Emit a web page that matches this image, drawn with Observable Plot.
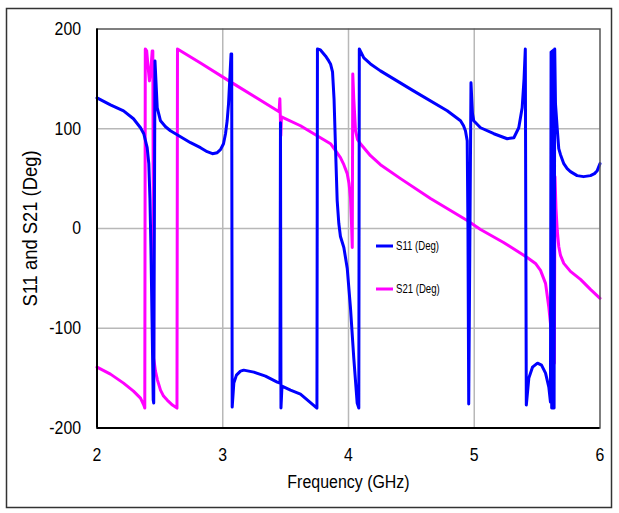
<!DOCTYPE html>
<html>
<head>
<meta charset="utf-8">
<script src="https://cdn.jsdelivr.net/npm/d3@7"></script>
<script src="https://cdn.jsdelivr.net/npm/@observablehq/plot@0.6"></script>
<style>
  html, body { margin: 0; padding: 0; background: #fff; }
  #chart { width: 619px; height: 513px; }
</style>
</head>
<body>
<div id="chart"></div>
<script>
// ---- data ----
const s11Freq = [2.000, 2.107, 2.211, 2.290, 2.346, 2.372, 2.399, 2.412, 2.421, 2.429, 2.439, 2.447, 2.451, 2.461, 2.479, 2.505, 2.545, 2.584, 2.664, 2.744, 2.823, 2.876, 2.918, 2.956, 2.982, 3.006, 3.022, 3.035, 3.046, 3.056, 3.066, 3.071, 3.075, 3.088, 3.109, 3.141, 3.167, 3.247, 3.340, 3.433, 3.455, 3.459, 3.463, 3.471, 3.539, 3.618, 3.749, 3.753, 3.777, 3.817, 3.843, 3.857, 3.873, 3.885, 3.897, 3.910, 3.923, 3.936, 3.963, 3.990, 4.016, 4.042, 4.069, 4.082, 4.086, 4.122, 4.175, 4.254, 4.517, 4.785, 4.891, 4.915, 4.930, 4.944, 4.950, 4.956, 4.974, 4.986, 4.996, 5.050, 5.156, 5.262, 5.315, 5.354, 5.381, 5.396, 5.406, 5.414, 5.434, 5.463, 5.503, 5.535, 5.567, 5.593, 5.606, 5.611, 5.616, 5.620, 5.625, 5.630, 5.635, 5.640, 5.646, 5.660, 5.672, 5.686, 5.712, 5.739, 5.765, 5.818, 5.869, 5.924, 5.956, 5.978, 6.000];
const s11Deg  = [131, 124, 118, 110, 101, 95, 81, 65, 30, -20, -102, -172, -175, 168, 121, 108, 102, 98, 92, 86, 81, 77, 75, 76, 79, 85, 95, 108, 125, 150, 175, 175, -179, -155, -147, -143, -142, -144, -148, -154, -155, 106, -180, -158, -162, -166, -180, 180, 179, 173, 168, 165, 157, 130, 80, 28, 5, -8, -19, -40, -80, -130, -175, -180, 180, 171, 165, 158, 138, 118, 108, 103, 98, 88, 0, -176, 146, 115, 108, 101, 95, 90, 91, 101, 121, 150, 180, -177, -150, -139, -135, -137, -145, -159, -174, 177, -180, 178, -180, 179, -180, 180, 125, 100, 80, 74, 65, 60, 57, 53, 52, 53, 55, 58, 65];

const s21Freq = [2.000, 2.107, 2.211, 2.290, 2.346, 2.372, 2.380, 2.384, 2.395, 2.404, 2.417, 2.429, 2.439, 2.444, 2.451, 2.465, 2.481, 2.505, 2.529, 2.558, 2.600, 2.636, 2.640, 2.823, 3.062, 3.448, 3.454, 3.462, 3.467, 3.618, 3.777, 3.857, 3.897, 3.936, 3.963, 3.990, 4.004, 4.016, 4.024, 4.030, 4.034, 4.042, 4.056, 4.072, 4.095, 4.175, 4.254, 4.414, 4.652, 4.944, 5.050, 5.233, 5.421, 5.487, 5.527, 5.567, 5.593, 5.606, 5.622, 5.637, 5.642, 5.650, 5.660, 5.672, 5.686, 5.712, 5.765, 5.845, 5.924, 6.000];
const s21Deg  = [-139, -146, -155, -163, -170, -177, -180, 180, 178, 165, 148, 160, 178, 178, -130, -143, -152, -162, -168, -172, -177, -180, 180, 166, 147, 117, 130, 93, 112, 103, 91, 85, 78, 71, 64, 55, 45, 31, 5, -19, 155, 130, 98, 89, 85, 73, 64, 50, 30, 8, -1, -14, -29, -35, -42, -55, -79, -95, -115, -135, 52, 20, -2, -18, -27, -35, -43, -51, -61, -70];

const xTicks = [2, 3, 4, 5, 6];
const yTicks = [-200, -100, 0, 100, 200];
const xGrid = [3, 4, 5];
const yGrid = [-100, 0, 100];
const seriesNames = ["S11 (Deg)", "S21 (Deg)"];
const seriesColors = ["#0000ff", "#ff00ff"];
const xTitle = "Frequency (GHz)";
const yTitle = "S11 and S21 (Deg)";

// ---- build tables ----
const s11 = s11Freq.map((f, i) => ({f, v: s11Deg[i]}));
const s21 = s21Freq.map((f, i) => ({f, v: s21Deg[i]}));

const font = '"Liberation Sans", Arial, sans-serif';

const chart = Plot.plot({
  width: 619,
  height: 513,
  marginLeft: 96.5,
  marginRight: 19.5,
  marginTop: 28.5,
  marginBottom: 85.5,
  style: {fontFamily: font, fontSize: "18px", background: "#fff", color: "#000"},
  x: {domain: [2, 6]},
  y: {domain: [-200, 200]},
  marks: [
    Plot.gridX(xGrid, {stroke: "#b8b8b8", strokeOpacity: 1, strokeWidth: 1.5}),
    Plot.gridY(yGrid, {stroke: "#b8b8b8", strokeOpacity: 1, strokeWidth: 1.5}),
    Plot.line(s21, {x: "f", y: "v", stroke: seriesColors[1], strokeWidth: 3, curve: "linear"}),
    Plot.line(s11, {x: "f", y: "v", stroke: seriesColors[0], strokeWidth: 3, curve: "linear"}),
    Plot.frame({stroke: "#555", strokeWidth: 1.5}),
    Plot.ruleX([2], {stroke: "#000", strokeWidth: 2}),
    Plot.ruleY([-200], {stroke: "#000", strokeWidth: 2}),
    Plot.axisX({ticks: xTicks, tickSize: 0, tickPadding: 20, tickFormat: d => String(d), label: null, fontSize: 18}),
    Plot.axisY({ticks: yTicks, tickSize: 0, tickPadding: 16, tickFormat: d => String(d), label: null, fontSize: 18}),
    Plot.text([xTitle], {frameAnchor: "bottom", dy: 54, lineAnchor: "middle", textAnchor: "middle", fontSize: 19}),
    Plot.text([yTitle], {frameAnchor: "left", dx: -66, rotate: -90, lineAnchor: "middle", textAnchor: "middle", fontSize: 20})
  ]
});

document.getElementById("chart").appendChild(chart);

const svg = d3.select(chart);

// narrow the glyphs horizontally (the reference uses a condensed face)
function squeeze(sel, k) {
  sel.each(function () {
    const t = this.getAttribute("transform") || "";
    const xa = this.getAttribute("x");
    const cx = (xa && /^-?[\d.]+$/.test(xa)) ? +xa : 0;
    this.setAttribute("transform", `${t} translate(${cx},0) scale(${k},1) translate(${-cx},0)`);
  });
}
squeeze(svg.selectAll('g[aria-label="x-axis tick label"] text'), 0.88);
squeeze(svg.selectAll('g[aria-label="y-axis tick label"] text'), 0.88);
squeeze(svg.selectAll('g[aria-label="text"] text').filter(function () { return this.textContent === xTitle; }), 0.84);
squeeze(svg.selectAll('g[aria-label="text"] text').filter(function () { return this.textContent === yTitle; }), 0.92);

// outer border
svg.insert("rect", ":first-child")
  .attr("x", 6.5).attr("y", 8.5).attr("width", 605).attr("height", 499)
  .attr("fill", "#fff").attr("stroke", "#333").attr("stroke-width", 1.5);

// legend
const legendRows = [246, 289];
seriesNames.forEach((name, i) => {
  svg.append("line")
    .attr("x1", 376).attr("x2", 393)
    .attr("y1", legendRows[i]).attr("y2", legendRows[i])
    .attr("stroke", seriesColors[i]).attr("stroke-width", 3);
  const t = svg.append("text")
    .attr("x", 396).attr("y", legendRows[i])
    .attr("dy", "0.35em")
    .attr("text-anchor", "start")
    .attr("font-size", 12)
    .attr("font-family", font)
    .attr("fill", "#000")
    .text(name);
  squeeze(t, 0.8);
});
</script>
</body>
</html>
